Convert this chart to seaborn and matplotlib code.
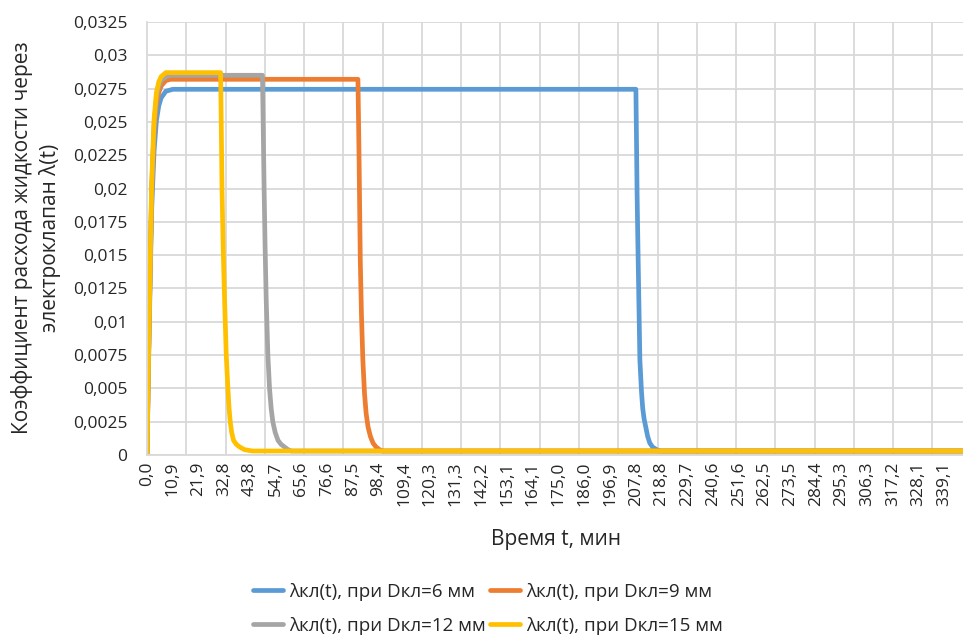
import matplotlib
matplotlib.use("Agg")
import matplotlib.pyplot as plt
from matplotlib.lines import Line2D
from matplotlib.ticker import MultipleLocator
import seaborn as sns
import pandas as pd

# --- data ---
series_names = ["λкл(t), при Dкл=6 мм", "λкл(t), при Dкл=9 мм",
                "λкл(t), при Dкл=12 мм", "λкл(t), при Dкл=15 мм"]
colors = ["#5B9BD5", "#ED7D31", "#A5A5A5", "#FFC000"]

t_6 = [0, 0.5, 1, 1.5, 2, 3, 4, 5, 6, 8, 11,
       207.9, 208.15, 208.4, 208.75, 209.1, 209.6, 210.3, 210.8, 211.4,
       212.1, 212.9, 213.8, 215.0, 216.7, 218.5, 347]
lam_6 = [0, 0.0054, 0.0100, 0.0145, 0.0185, 0.0228, 0.0251, 0.0262, 0.0268,
         0.0273, 0.02745,
         0.02745, 0.0237, 0.0197, 0.0158, 0.0122, 0.0071, 0.0047, 0.0035,
         0.0027, 0.0021, 0.0014, 0.0009, 0.0006, 0.0004, 0.0003, 0.0003]

t_9 = [0, 0.5, 1, 1.5, 2, 3, 4, 5, 6, 8, 10,
       89.7, 89.95, 90.2, 90.45, 90.7, 91.2, 91.8, 92.5, 93.2, 94.0,
       95.0, 96.1, 97.4, 98.9, 100.5, 347]
lam_9 = [0, 0.0057, 0.0106, 0.0153, 0.0196, 0.0242, 0.0263, 0.0272, 0.0277,
         0.0281, 0.0282,
         0.0282, 0.0252, 0.0220, 0.0182, 0.0146, 0.0105, 0.0071, 0.0046,
         0.0031, 0.0021, 0.0014, 0.0009, 0.0006, 0.0004, 0.0003, 0.0003]

t_12 = [0, 0.5, 1, 1.5, 2, 3, 4, 5, 6, 8, 10,
        49.1, 49.45, 49.8, 50.2, 50.7, 51.4, 52.1, 52.8, 53.5, 54.5,
        55.7, 57.0, 58.5, 60.0, 61.4, 347]
lam_12 = [0, 0.0058, 0.0108, 0.0156, 0.0200, 0.0247, 0.0268, 0.0277, 0.0281,
          0.0284, 0.0285,
          0.0285, 0.0243, 0.0200, 0.0158, 0.0116, 0.0075, 0.0050, 0.0035,
          0.0025, 0.0017, 0.0011, 0.0008, 0.0006, 0.0004, 0.0003, 0.0003]

t_15 = [0, 0.5, 1, 1.5, 2, 3, 4, 5, 6, 8, 10,
        31.3, 31.6, 31.9, 32.4, 33.0, 33.7, 34.4, 34.9, 35.4, 36.0,
        36.8, 38.0, 39.4, 41.5, 44.9, 347]
lam_15 = [0, 0.0059, 0.0110, 0.0160, 0.0205, 0.0252, 0.0272, 0.0280, 0.0284,
          0.0287, 0.0287,
          0.0287, 0.0245, 0.0199, 0.0155, 0.0116, 0.0075, 0.0050, 0.0035,
          0.0025, 0.0017, 0.0011, 0.0008, 0.0006, 0.0004, 0.0003, 0.0003]

x_tick_labels = ["0,0", "10,9", "21,9", "32,8", "43,8", "54,7", "65,6", "76,6",
                 "87,5", "98,4", "109,4", "120,3", "131,3", "142,2", "153,1",
                 "164,1", "175,0", "186,0", "196,9", "207,8", "218,8", "229,7",
                 "240,6", "251,6", "262,5", "273,5", "284,4", "295,3", "306,3",
                 "317,2", "328,1", "339,1"]
y_tick_labels = ["0", "0,0025", "0,005", "0,0075", "0,01", "0,0125", "0,015",
                 "0,0175", "0,02", "0,0225", "0,025", "0,0275", "0,03", "0,0325"]


def to_num(s):
    return float(s.replace(",", "."))


frames = []
for name, t, lam in zip(series_names, [t_6, t_9, t_12, t_15],
                        [lam_6, lam_9, lam_12, lam_15]):
    frames.append(pd.DataFrame({"t": t, "lam": lam, "series": name}))
df = pd.concat(frames, ignore_index=True)

sns.set_style("white")
plt.rcParams["font.family"] = ["Open Sans", "DejaVu Sans"]

fig = plt.figure(figsize=(9.63, 6.37), dpi=100)
ax = fig.add_axes([147 / 963, 1 - 455 / 637, 816 / 963, 433 / 637])

sns.lineplot(data=df, x="t", y="lam", hue="series", palette=colors,
             estimator=None, sort=False, linewidth=3.4, legend=False, ax=ax)
for line in ax.lines:
    line.set_solid_joinstyle("round")
    line.set_solid_capstyle("round")

ax.set_xlim(0, 347)
ax.set_ylim(0, 0.0325)
ax.set_xticks([to_num(s) for s in x_tick_labels])
ax.set_xticklabels(x_tick_labels, rotation=90, fontsize=12.5)
ax.set_yticks([to_num(s) for s in y_tick_labels])
ax.set_yticklabels(y_tick_labels, fontsize=12.5)
ax.xaxis.set_minor_locator(MultipleLocator(16.7))
ax.tick_params(axis="both", which="both", length=0)
ax.tick_params(axis="x", pad=5)
ax.tick_params(axis="y", pad=14)
ax.set_axisbelow(True)
ax.yaxis.grid(True, color="#D9D9D9", linewidth=1.3)
ax.xaxis.grid(True, which="minor", color="#D9D9D9", linewidth=1.3)
for side in ["top", "right"]:
    ax.spines[side].set_visible(False)
for side in ["left", "bottom"]:
    ax.spines[side].set_color("#D9D9D9")
    ax.spines[side].set_linewidth(1.3)
ax.set_xlabel("")
ax.set_ylabel("")

fig.text(556 / 963, 1 - 540 / 637, "Время t, мин", ha="center", va="center",
         fontsize=15)
fig.text(36 / 963, 1 - 238 / 637,
         "Коэффициент расхода жидкости через\nэлектроклапан λ(t)",
         rotation=90, ha="center", va="center", multialignment="center",
         fontsize=15, linespacing=1.35)

handles = [Line2D([], [], color=c, linewidth=3.4) for c in colors]
order = [0, 2, 1, 3]
fig.legend([handles[i] for i in order], [series_names[i] for i in order],
           loc="center", bbox_to_anchor=(488 / 963, 1 - 609 / 637), ncol=2,
           frameon=False, fontsize=13.5, handlelength=1.6, handletextpad=0.3,
           columnspacing=0.25, labelspacing=0.85)

fig.savefig("out.png", dpi=100)
